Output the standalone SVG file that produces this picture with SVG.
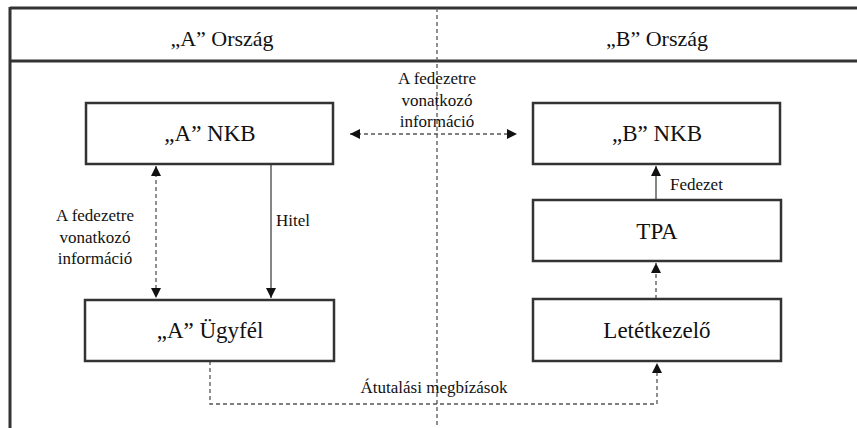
<svg xmlns="http://www.w3.org/2000/svg" width="857" height="428" viewBox="0 0 857 428">
<defs>
<style>
.frame{fill:none;stroke:#333;stroke-width:3}
.box{fill:#fff;stroke:#333;stroke-width:2.5}
.h{font-size:22px;fill:#111;text-anchor:middle}
.t{font-size:23px;fill:#111;text-anchor:middle}
.l{font-size:17px;fill:#111}
.dash{fill:none;stroke:#555;stroke-width:1.3;stroke-dasharray:4,3}
.solid{fill:none;stroke:#444;stroke-width:1.3}
</style>
<marker id="ah" viewBox="0 0 10 10" refX="10" refY="5" markerWidth="10" markerHeight="10" markerUnits="userSpaceOnUse" orient="auto-start-reverse">
<path d="M0,0 L10,5 L0,10 Z" fill="#111"/>
</marker>
</defs>
<g font-family="Liberation Serif, DejaVu Serif, serif">
<g id="frame">
<line class="frame" x1="10" y1="8" x2="857" y2="8"/>
<line class="frame" x1="10" y1="61" x2="857" y2="61"/>
<line class="frame" x1="10" y1="7" x2="10" y2="428"/>
<line class="dash" x1="437" y1="8" x2="437" y2="428" stroke-dasharray="2,1.5" stroke-width="1"/>
<text class="h" x="222" y="46">„A” Ország</text>
<text class="h" x="657" y="46">„B” Ország</text>
</g>
<g id="connectors">
<line class="dash" x1="350" y1="134" x2="517" y2="134" marker-start="url(#ah)" marker-end="url(#ah)"/>
<line class="dash" x1="156" y1="166" x2="156" y2="298" marker-start="url(#ah)" marker-end="url(#ah)"/>
<line class="solid" x1="271" y1="164" x2="271" y2="298" marker-end="url(#ah)"/>
<line class="solid" x1="656" y1="200" x2="656" y2="166" marker-end="url(#ah)"/>
<line class="dash" x1="656" y1="299" x2="656" y2="263" marker-end="url(#ah)"/>
<polyline class="dash" points="210,361 210,404 657,404 657,363" marker-end="url(#ah)"/>
<text class="l" x="437" y="84" text-anchor="middle">A fedezetre</text>
<text class="l" x="437" y="106" text-anchor="middle">vonatkozó</text>
<text class="l" x="437" y="127" text-anchor="middle">információ</text>
<text class="l" x="95" y="221" text-anchor="middle">A fedezetre</text>
<text class="l" x="95" y="243" text-anchor="middle">vonatkozó</text>
<text class="l" x="95" y="264" text-anchor="middle">információ</text>
<text class="l" x="276" y="226">Hitel</text>
<text class="l" x="670" y="190">Fedezet</text>
<text class="l" x="434" y="393" text-anchor="middle">Átutalási megbízások</text>
</g>
<g id="a-nkb">
<rect class="box" x="86" y="103" width="247" height="61"/>
<text class="t" x="210" y="141">„A” NKB</text>
</g>
<g id="b-nkb">
<rect class="box" x="533" y="103" width="247" height="61"/>
<text class="t" x="657" y="141">„B” NKB</text>
</g>
<g id="tpa">
<rect class="box" x="533" y="200" width="248" height="61"/>
<text class="t" x="657" y="239">TPA</text>
</g>
<g id="letetkezelo">
<rect class="box" x="533" y="299" width="248" height="62"/>
<text class="t" x="657" y="338">Letétkezelő</text>
</g>
<g id="a-ugyfel">
<rect class="box" x="85" y="300" width="249" height="61"/>
<text class="t" x="210" y="338">„A” Ügyfél</text>
</g>
</g>
</svg>
